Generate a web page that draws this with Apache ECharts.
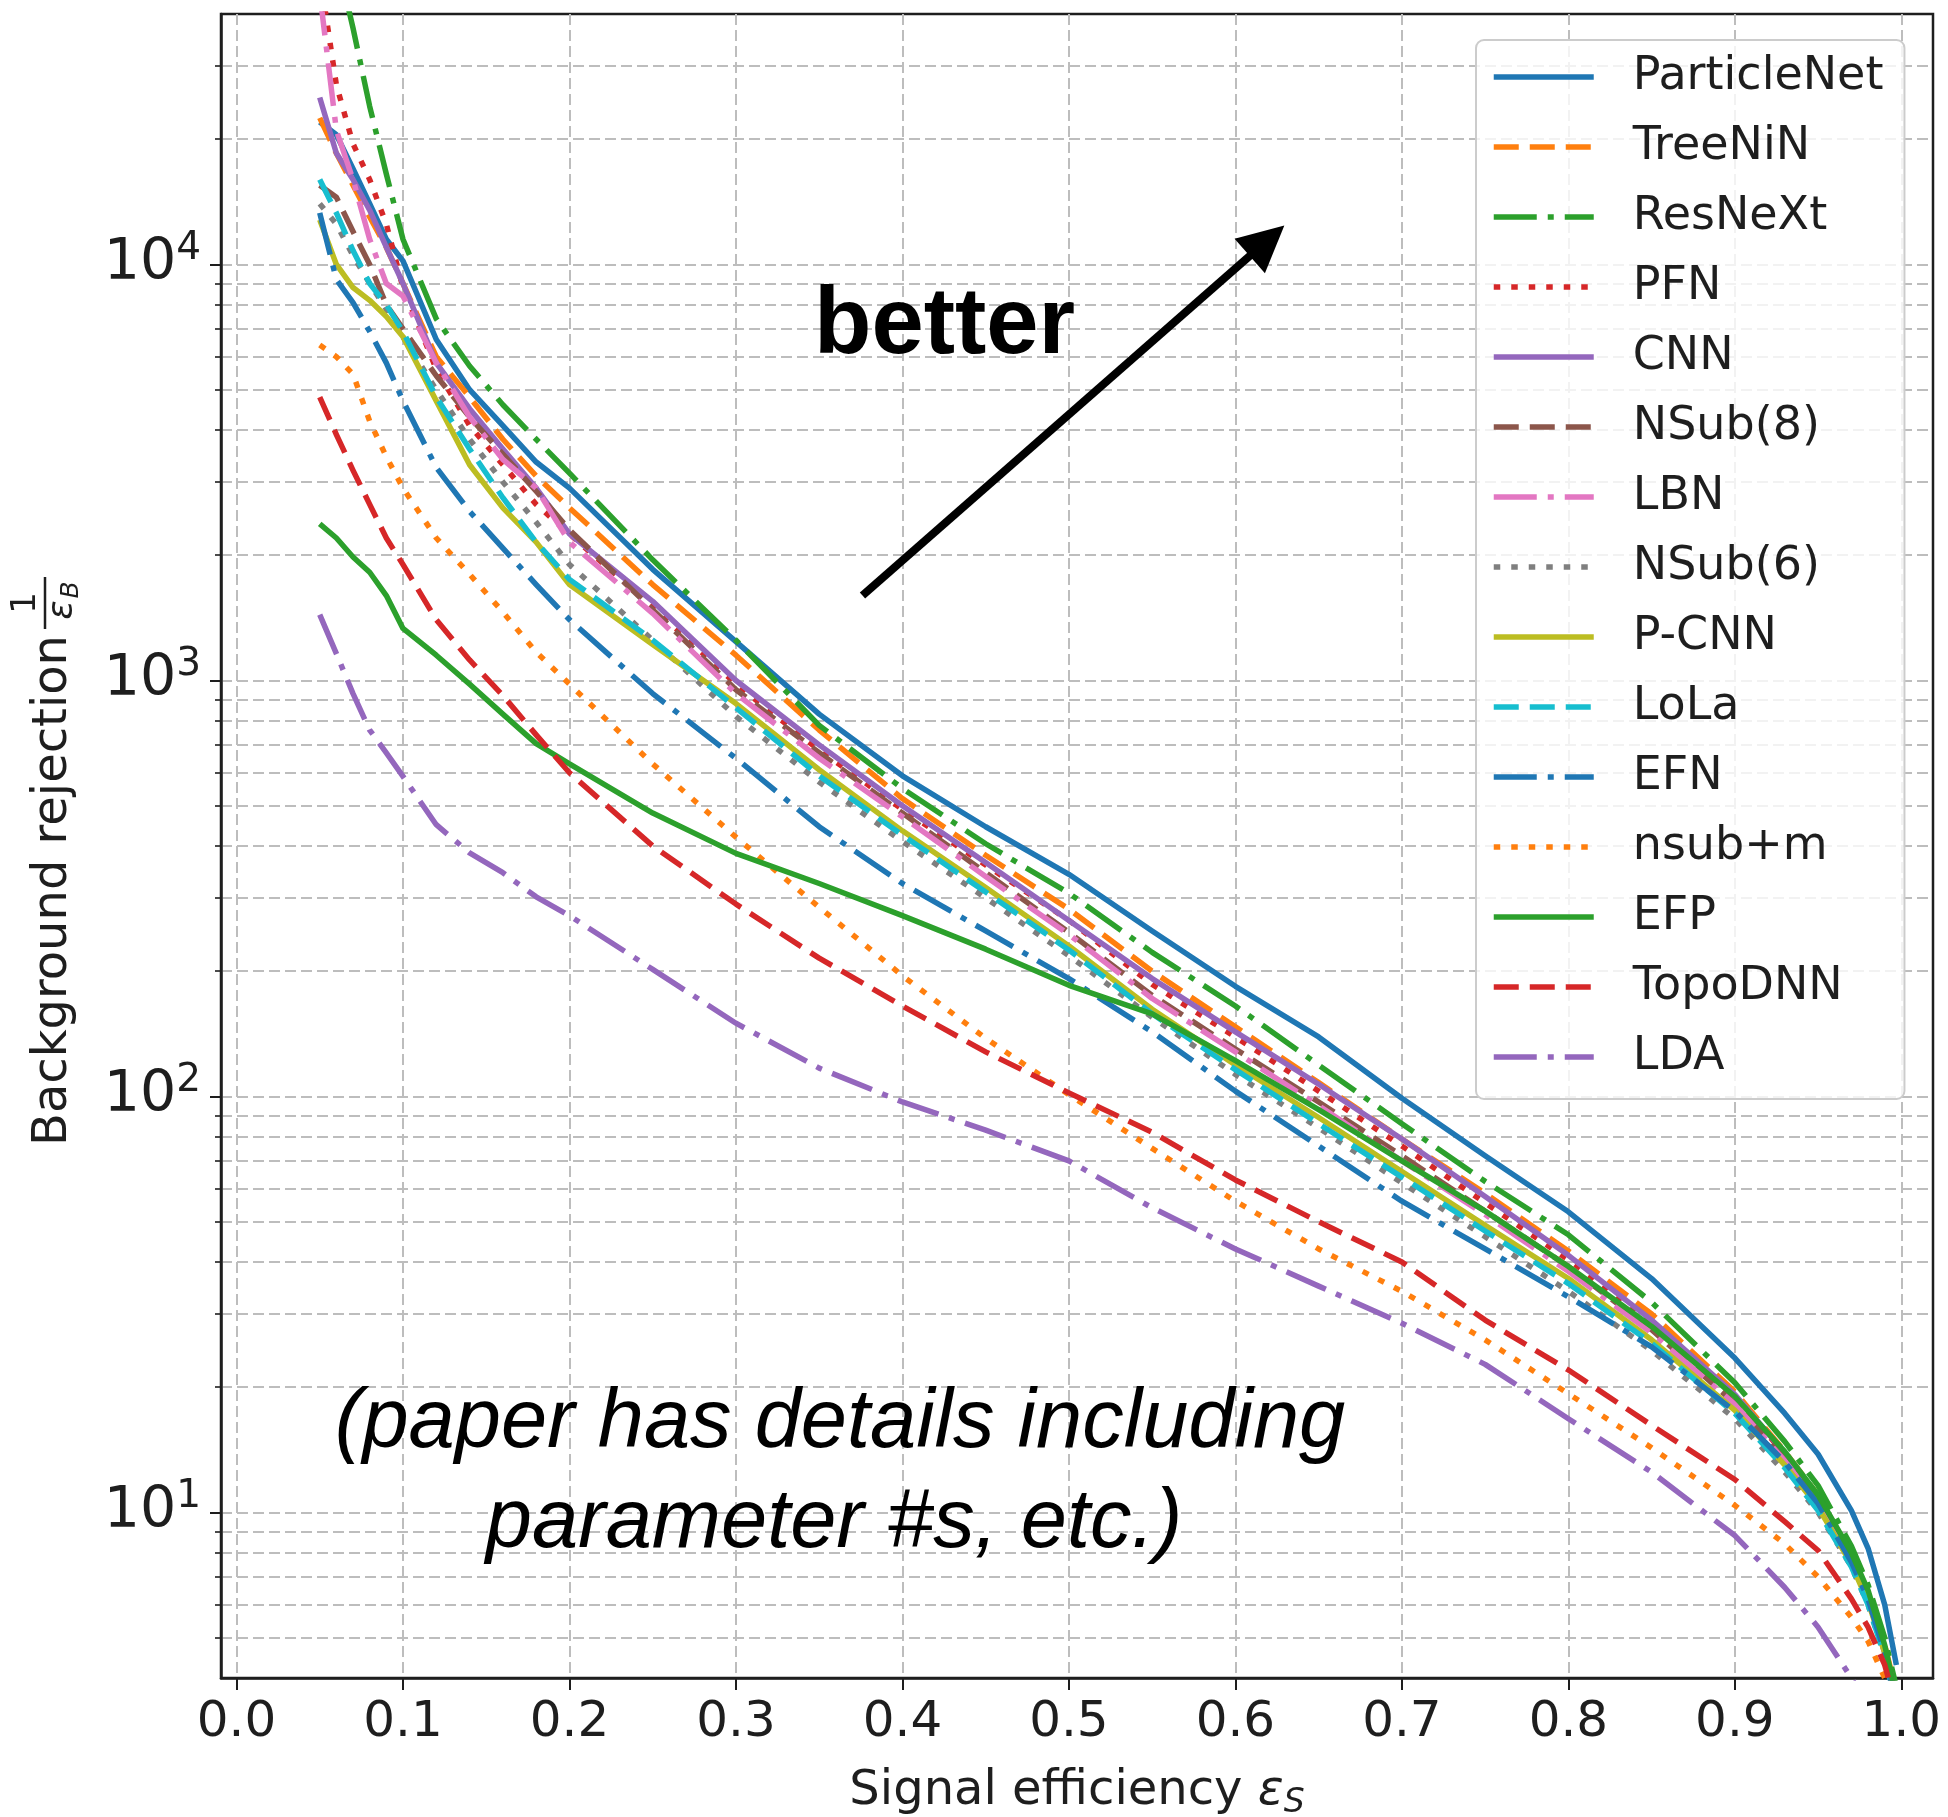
<!DOCTYPE html>
<html>
<head>
<meta charset="utf-8">
<script src="https://cdn.jsdelivr.net/npm/echarts@6/dist/echarts.min.js"></script>
<style>
html,body{margin:0;padding:0;background:#ffffff;}
#chart{width:1948px;height:1817px;}
</style>
</head>
<body>
<div id="chart"></div>
<script>
// ---- data ----
const signalEff = [0.05,0.06,0.07,0.08,0.09,0.10,0.12,0.14,0.16,0.18,0.20,0.25,0.30,0.35,0.40,0.45,0.50,0.55,0.60,0.65,0.70,0.75,0.80,0.85,0.90,0.93,0.95,0.97,0.98,0.99,0.997];

const particleNet = [22000,20500,17000,14000,11500,10200,6600,5000,4100,3350,2900,1850,1240,830,590,445,342,250,184,139,99,72,52.8,36.5,23.5,17.3,13.8,10.1,8.2,6.0,4.3];
const treeNiN     = [22500,18500,15500,13000,11000,9000,6000,4800,3800,3100,2600,1700,1150,760,520,380,282,200,147,108,79,58.5,42.5,30,19.5,14,11,7.9,6.4,4.8,3.7];
const resNeXt     = [90000,55000,37000,24000,16500,11500,7400,5700,4600,3800,3150,1950,1250,780,550,405,308,222,165,119,86,62.5,46.5,32,20.5,14.8,11.6,8.3,6.7,5.0,3.8];
const pfn         = [50000,27000,19500,16000,12500,8800,5600,4100,3300,2650,2250,1500,980,680,490,360,265,186,139,103,76,55.5,40.5,28.8,19,13.8,10.8,7.8,6.3,4.7,3.6];
const cnn         = [25200,18500,16000,13500,11000,9000,5800,4500,3600,2900,2250,1550,1000,700,500,365,265,192,143,107,79,57.5,41.5,29,19.2,13.9,10.8,7.8,6.3,4.7,3.6];
const nsub8       = [15500,14500,12000,10000,8000,7000,5400,4300,3500,2850,2300,1480,950,670,480,345,248,175,130,97,72,53,39,27.5,18.3,13.4,10.5,7.7,6.2,4.6,3.5];
const lbn         = [45000,21000,16000,11500,9000,8400,5800,4300,3400,2900,2150,1450,930,650,470,338,245,172,128,95,70,52,38,27,18.2,13.3,10.4,7.6,6.2,4.6,3.5];
const nsub6       = [14000,12500,10500,9000,7800,6700,5000,3800,3000,2400,1900,1250,820,570,410,300,218,155,113,84,62,46,34,24.5,16.8,12.5,10,7.4,6.0,4.5,3.4];
const pCnn        = [12800,10000,8800,8200,7500,6700,4700,3300,2600,2150,1700,1220,880,610,435,318,230,162,119,89,66,49,36.5,26,17.6,13,10.3,7.5,6.1,4.6,3.5];
const lola        = [16000,13300,10800,9000,8000,6900,4800,3600,2750,2150,1750,1250,860,590,425,310,225,158,116,86,64,47.5,35.5,25.5,17.3,12.8,10.1,7.4,6.0,4.5,3.4];
const efn         = [13300,9200,8100,6900,5800,4700,3250,2550,2080,1700,1400,930,650,445,325,250,192,143,103,76,56,43,33,25,17.5,13.2,10.5,7.6,6.2,4.6,3.4];
const nsubM       = [6400,6000,5450,4200,3450,2900,2200,1800,1460,1170,980,630,420,285,195,138,101,75,56,43,34,26,19.3,14.3,10.4,8.4,7.0,5.6,4.9,4.0,3.2];
const efp         = [2380,2200,1980,1820,1600,1334,1150,980,830,705,630,480,384,325,272,226,185,158,122,93,70,53,39,28,19,14,11,8,6.5,4.8,3.6];
const topoDNN     = [4800,3900,3200,2650,2200,1900,1400,1120,920,740,600,400,290,215,165,128,102,82,63,50,40,29,22,16.2,12.0,9.5,8.1,6.2,5.3,4.3,3.4];
const lda         = [1440,1160,930,760,670,588,450,385,345,302,272,202,150,117,97,83,70,54,43,35,28.5,22.7,16.8,12.5,8.8,6.6,5.3,4.0,3.4,2.8,2.4];

const modelNames = ['ParticleNet','TreeNiN','ResNeXt','PFN','CNN','NSub(8)','LBN','NSub(6)','P-CNN','LoLa','EFN','nsub+m','EFP','TopoDNN','LDA'];
const modelValues = [particleNet,treeNiN,resNeXt,pfn,cnn,nsub8,lbn,nsub6,pCnn,lola,efn,nsubM,efp,topoDNN,lda];

const xTickValues = [0,0.1,0.2,0.3,0.4,0.5,0.6,0.7,0.8,0.9,1.0];
const yTickValues = [10,100,1000,10000];

// annotation arrow (data coordinates)
const arrowFrom = [0.376, 1600];
const arrowTo   = [0.619, 11400];

// ---- styles ----
const palette = ['#1f77b4','#ff7f0e','#2ca02c','#d62728','#9467bd','#8c564b','#e377c2','#7f7f7f','#bcbd22','#17becf','#1f77b4','#ff7f0e','#2ca02c','#d62728','#9467bd'];
const dashCycle = ['solid',[25,11],[43,11,6,11],[6.5,11]];
const gridColor = '#bdbdbd';
const gridDash = [11,5];
const ink = '#1e1e1e';
const axisFont = 'DejaVu Sans';
const curveWidth = 5.5;

const series = modelNames.map((name, k) => ({
  name: name,
  type: 'line',
  data: signalEff.map((x, i) => [x, modelValues[k][i]]),
  symbol: 'none',
  showSymbol: false,
  clip: true,
  silent: true,
  animation: false,
  emphasis: {disabled: true},
  itemStyle: {color: palette[k]},
  lineStyle: {color: palette[k], width: curveWidth, type: dashCycle[k % 4], cap: 'butt', join: 'round'},
  z: 3
}));

series.push({
  name: 'arrow',
  type: 'line',
  data: [],
  silent: true,
  animation: false,
  z: 6,
  markLine: {
    silent: true,
    animation: false,
    symbol: ['none', 'triangle'],
    symbolSize: 46,
    label: {show: false},
    emphasis: {disabled: true},
    lineStyle: {color: '#000000', width: 8, type: 'solid'},
    data: [[{coord: arrowFrom}, {coord: arrowTo}]]
  }
});

const option = {
  animation: false,
  backgroundColor: '#ffffff',
  grid: {left: 221, top: 14, right: 15, bottom: 139, show: true, borderColor: ink, borderWidth: 2.5, backgroundColor: 'transparent', containLabel: false, outerBoundsMode: 'none'},
  xAxis: {
    type: 'value', min: -0.0093, max: 1.019, splitNumber: 10, minInterval: 0.1, maxInterval: 0.1,
    axisLine: {show: true, onZero: false, lineStyle: {color: ink, width: 2.5}},
    axisTick: {show: true, length: 12, customValues: xTickValues, lineStyle: {color: ink, width: 2}},
    axisLabel: {
      customValues: xTickValues, margin: 20, fontFamily: axisFont, fontSize: 50, color: ink,
      formatter: function (v) { return Math.abs(v * 10 - Math.round(v * 10)) < 1e-6 ? v.toFixed(1) : ''; }
    },
    splitLine: {show: true, lineStyle: {color: gridColor, width: 2, type: gridDash}},
    name: 'Signal efficiency {e|ε}{s|S}',
    nameLocation: 'middle',
    nameGap: 86,
    nameTextStyle: {
      fontFamily: axisFont, fontSize: 48, color: ink, lineHeight: 56,
      rich: {
        e: {fontFamily: axisFont, fontSize: 48, fontStyle: 'italic', color: ink},
        s: {fontFamily: axisFont, fontSize: 33, fontStyle: 'italic', color: ink, verticalAlign: 'bottom'}
      }
    }
  },
  yAxis: {
    type: 'log', logBase: 10, min: 4, max: 40000,
    axisLine: {show: true, onZero: false, lineStyle: {color: ink, width: 2.5}},
    axisTick: {show: true, length: 11, customValues: yTickValues, lineStyle: {color: ink, width: 2}},
    minorTick: {show: true, splitNumber: 9, length: 6, lineStyle: {color: ink, width: 1.6}},
    axisLabel: {
      customValues: yTickValues, margin: 20, color: ink,
      formatter: function (v) {
        const e = Math.round(Math.log10(v));
        if (Math.abs(Math.pow(10, e) - v) > 1e-6 * v) return '';
        return '{b|10}{s|' + e + '}';
      },
      rich: {
        b: {fontFamily: axisFont, fontSize: 57, color: ink, lineHeight: 70},
        s: {fontFamily: axisFont, fontSize: 39, color: ink, verticalAlign: 'top'}
      }
    },
    splitLine: {show: true, lineStyle: {color: gridColor, width: 2, type: gridDash}},
    minorSplitLine: {show: true, lineStyle: {color: gridColor, width: 2, type: gridDash}}
  },
  legend: {
    data: modelNames,
    orient: 'vertical',
    left: 1476, top: 40,
    itemWidth: 100, itemHeight: 1, itemGap: 20,
    padding: [12, 21, 17, 15],
    backgroundColor: 'rgba(255,255,255,0.8)',
    borderColor: '#cccccc', borderWidth: 2, borderRadius: 8,
    selectedMode: false,
    itemStyle: {opacity: 0},
    lineStyle: {width: curveWidth},
    formatter: function (name) { return '{t|' + name + '}'; },
    textStyle: {
      fontFamily: axisFont, fontSize: 46, color: ink, lineHeight: 50,
      rich: {t: {fontFamily: axisFont, fontSize: 46, color: ink, lineHeight: 50, padding: [0, 0, 0, 34]}}
    },
    z: 10
  },
  graphic: [
    {
      type: 'text', x: 814, y: 327, z: 20, silent: true,
      style: {text: 'better', font: 'bold 94px "Liberation Sans", Arial, sans-serif', fill: '#000', align: 'left', verticalAlign: 'middle'}
    },
    {
      type: 'text', x: 840, y: 1424, z: 20, silent: true,
      style: {text: '(paper has details including', font: 'italic 83px "Liberation Sans", Arial, sans-serif', fill: '#000', align: 'center', verticalAlign: 'middle'}
    },
    {
      type: 'text', x: 834, y: 1524, z: 20, silent: true,
      style: {text: 'parameter #s, etc.)', font: 'italic 83px "Liberation Sans", Arial, sans-serif', fill: '#000', align: 'center', verticalAlign: 'middle'}
    },
    {
      type: 'group', x: 68, y: 1146, rotation: Math.PI / 2, z: 20, silent: true,
      children: [
        {type: 'text', x: 0, y: -14, style: {text: 'Background rejection', font: '48px "DejaVu Sans"', fill: ink, align: 'left', verticalAlign: 'middle'}},
        {type: 'text', x: 543, y: -42, style: {text: '1', font: '34px "DejaVu Sans"', fill: ink, align: 'center', verticalAlign: 'middle'}},
        {type: 'line', shape: {x1: 517, y1: -23, x2: 569, y2: -23}, style: {stroke: ink, lineWidth: 2.5}},
        {type: 'text', x: 536, y: -5, style: {text: 'ε', font: 'italic 36px "DejaVu Sans"', fill: ink, align: 'center', verticalAlign: 'middle'}},
        {type: 'text', x: 556, y: 3, style: {text: 'B', font: 'italic 25px "DejaVu Sans"', fill: ink, align: 'center', verticalAlign: 'middle'}}
      ]
    }
  ],
  series: series
};

const chart = echarts.init(document.getElementById('chart'), null, {renderer: 'canvas', width: 1948, height: 1817});
chart.setOption(option);
</script>
</body>
</html>
